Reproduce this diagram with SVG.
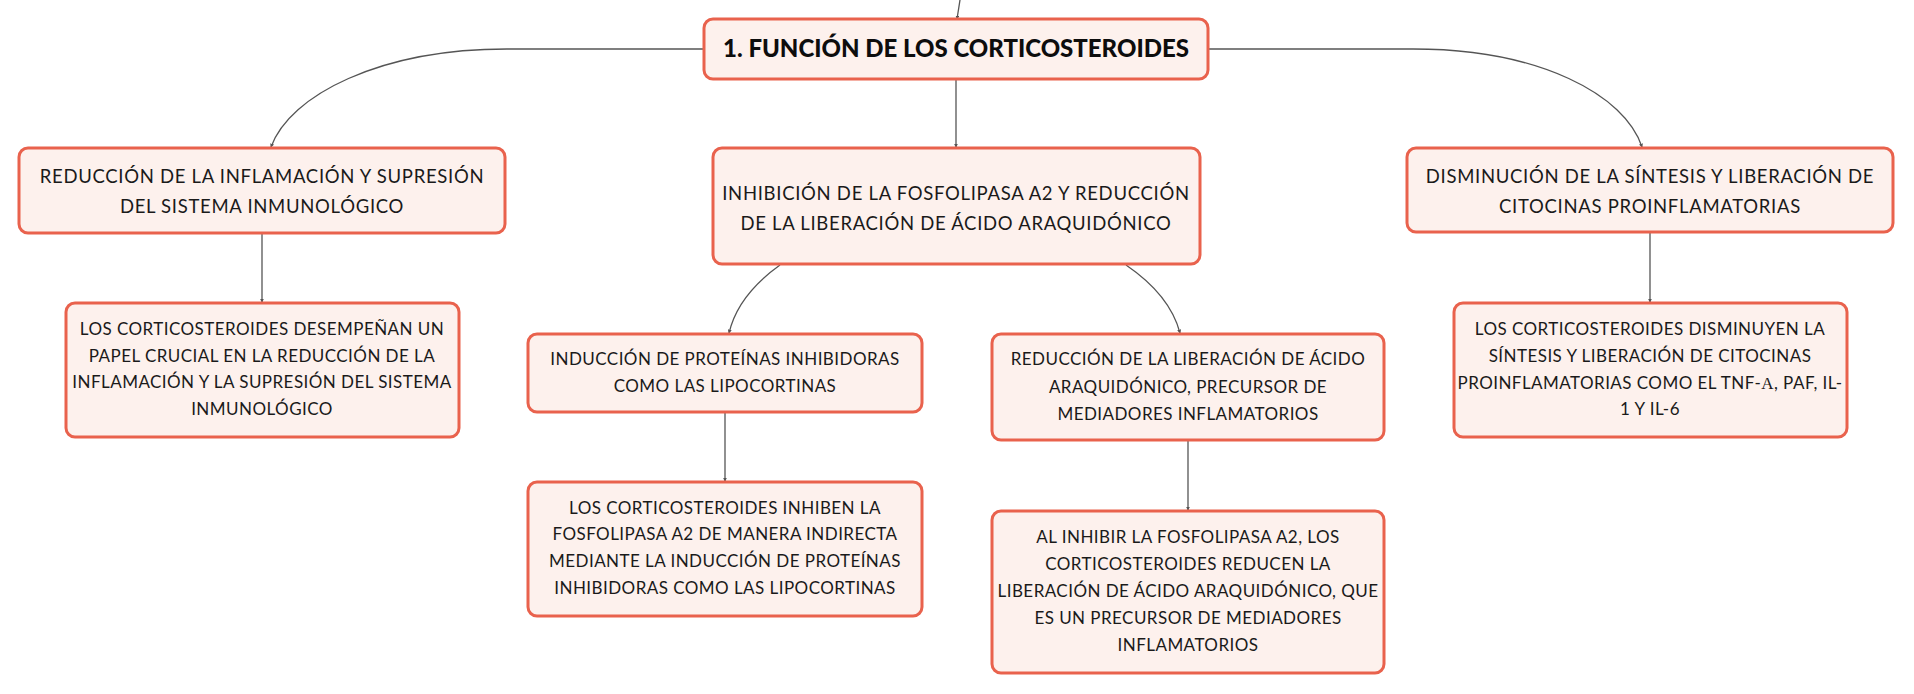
<svg xmlns="http://www.w3.org/2000/svg" width="1914" height="694" viewBox="0 0 1914 694">
<defs>
<style>
.box{fill:#fdf1ed;stroke:#e9624d;stroke-width:3}
.t1{font-family:Lato,"Noto Sans",sans-serif;font-size:18.5px;letter-spacing:0.7px;fill:#1a1a1a;text-anchor:middle}
.t2{font-family:Lato,"Noto Sans",sans-serif;font-size:17px;letter-spacing:0.45px;fill:#1a1a1a;text-anchor:middle}
.root{font-family:Lato,"Noto Sans",sans-serif;font-size:24px;font-weight:900;fill:#0d0d0d;text-anchor:middle}
.c{fill:none;stroke:#555;stroke-width:1.3}
</style>
<marker id="ah" viewBox="0 0 6 6" refX="5" refY="3" markerWidth="4" markerHeight="4" orient="auto" markerUnits="userSpaceOnUse">
<path d="M0,0 L6,3 L0,6 z" fill="#555"/>
</marker>
</defs>
<rect width="1914" height="694" fill="#ffffff"/>
<g id="connectors">
<path class="c" d="M960,0 L957,19" marker-end="url(#ah)"/>
<path class="c" d="M704,49 L507,49 C380,49 290,95 271,147" marker-end="url(#ah)"/>
<path class="c" d="M1208,49 L1413,49 C1540,49 1625,95 1642,147" marker-end="url(#ah)"/>
<path class="c" d="M956,79 L956,147" marker-end="url(#ah)"/>
<path class="c" d="M262,233 L262,302" marker-end="url(#ah)"/>
<path class="c" d="M1650,232 L1650,302" marker-end="url(#ah)"/>
<path class="c" d="M780,265 Q738,295 729,333" marker-end="url(#ah)"/>
<path class="c" d="M1126,265 Q1170,295 1180,333" marker-end="url(#ah)"/>
<path class="c" d="M725,412 L725,481" marker-end="url(#ah)"/>
<path class="c" d="M1188,440 L1188,510" marker-end="url(#ah)"/>
</g>
<g id="root">
<rect class="box" x="704" y="19" width="504" height="60" rx="9"/>
<text class="root" x="956" y="57">1. FUNCIÓN DE LOS CORTICOSTEROIDES</text>
</g>
<g id="n-left">
<rect class="box" x="19" y="148" width="486" height="85" rx="9"/>
<text class="t1" x="262"><tspan x="262" y="183">REDUCCIÓN DE LA INFLAMACIÓN Y SUPRESIÓN</tspan><tspan x="262" y="213">DEL SISTEMA INMUNOLÓGICO</tspan></text>
</g>
<g id="n-left-child">
<rect class="box" x="66" y="303" width="393" height="134" rx="9"/>
<text class="t2" x="262"><tspan x="262" y="335">LOS CORTICOSTEROIDES DESEMPEÑAN UN</tspan><tspan x="262" y="362">PAPEL CRUCIAL EN LA REDUCCIÓN DE LA</tspan><tspan x="262" y="388">INFLAMACIÓN Y LA SUPRESIÓN DEL SISTEMA</tspan><tspan x="262" y="415">INMUNOLÓGICO</tspan></text>
</g>
<g id="n-mid">
<rect class="box" x="713" y="148" width="487" height="116" rx="9"/>
<text class="t1" x="956"><tspan x="956" y="200">INHIBICIÓN DE LA FOSFOLIPASA A2 Y REDUCCIÓN</tspan><tspan x="956" y="230">DE LA LIBERACIÓN DE ÁCIDO ARAQUIDÓNICO</tspan></text>
</g>
<g id="n-mid-left">
<rect class="box" x="528" y="334" width="394" height="78" rx="9"/>
<text class="t2" x="725"><tspan x="725" y="365">INDUCCIÓN DE PROTEÍNAS INHIBIDORAS</tspan><tspan x="725" y="392">COMO LAS LIPOCORTINAS</tspan></text>
</g>
<g id="n-mid-left-child">
<rect class="box" x="528" y="482" width="394" height="134" rx="9"/>
<text class="t2" x="725"><tspan x="725" y="514">LOS CORTICOSTEROIDES INHIBEN LA</tspan><tspan x="725" y="540">FOSFOLIPASA A2 DE MANERA INDIRECTA</tspan><tspan x="725" y="567">MEDIANTE LA INDUCCIÓN DE PROTEÍNAS</tspan><tspan x="725" y="594">INHIBIDORAS COMO LAS LIPOCORTINAS</tspan></text>
</g>
<g id="n-mid-right">
<rect class="box" x="992" y="334" width="392" height="106" rx="9"/>
<text class="t2" x="1188"><tspan x="1188" y="365">REDUCCIÓN DE LA LIBERACIÓN DE ÁCIDO</tspan><tspan x="1188" y="393">ARAQUIDÓNICO, PRECURSOR DE</tspan><tspan x="1188" y="420">MEDIADORES INFLAMATORIOS</tspan></text>
</g>
<g id="n-mid-right-child">
<rect class="box" x="992" y="511" width="392" height="162" rx="9"/>
<text class="t2" x="1188"><tspan x="1188" y="543">AL INHIBIR LA FOSFOLIPASA A2, LOS</tspan><tspan x="1188" y="570">CORTICOSTEROIDES REDUCEN LA</tspan><tspan x="1188" y="597">LIBERACIÓN DE ÁCIDO ARAQUIDÓNICO, QUE</tspan><tspan x="1188" y="624">ES UN PRECURSOR DE MEDIADORES</tspan><tspan x="1188" y="651">INFLAMATORIOS</tspan></text>
</g>
<g id="n-right">
<rect class="box" x="1407" y="148" width="486" height="84" rx="9"/>
<text class="t1" x="1650"><tspan x="1650" y="183">DISMINUCIÓN DE LA SÍNTESIS Y LIBERACIÓN DE</tspan><tspan x="1650" y="213">CITOCINAS PROINFLAMATORIAS</tspan></text>
</g>
<g id="n-right-child">
<rect class="box" x="1454" y="303" width="393" height="134" rx="9"/>
<text class="t2" x="1650"><tspan x="1650" y="335">LOS CORTICOSTEROIDES DISMINUYEN LA</tspan><tspan x="1650" y="362">SÍNTESIS Y LIBERACIÓN DE CITOCINAS</tspan><tspan x="1650" y="389">PROINFLAMATORIAS COMO EL TNF-<tspan font-family="'Liberation Serif',serif">Α</tspan>, PAF, IL-</tspan><tspan x="1650" y="415">1 Y IL-6</tspan></text>
</g>
</svg>
